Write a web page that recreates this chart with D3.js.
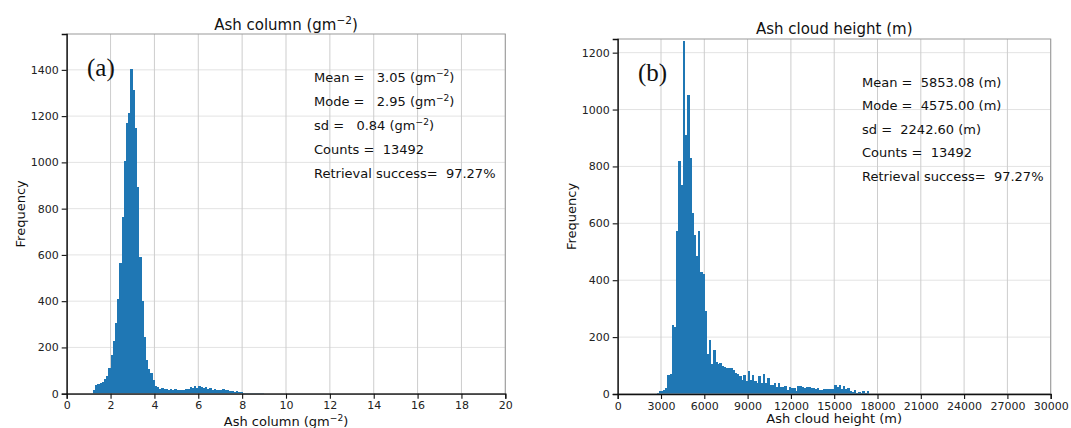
<!DOCTYPE html>
<html>
<head>
<meta charset="utf-8">
<script src="https://cdn.jsdelivr.net/npm/d3@7"></script>
<style>
  body { margin: 0; background: #fff; }
  svg { display: block; font-family: "DejaVu Sans", sans-serif; }
  .tick text { font-size: 11px; fill: #222; }
  .stats text { white-space: pre; }
</style>
</head>
<body>
<div id="chart"></div>
<script>
// ---- data ----
// (a) ash column, bins of 0.1 g/m2 starting at 1.2
const ashColumnStart = 1.2;
const ashColumnWidth = 0.1;
const ashColumnFreq = [
  15, 38, 44, 46, 50, 62, 75, 110,
  167, 229, 304, 408, 565, 762, 1004, 1171, 1212, 1403,
  1313, 1147, 895, 592, 400, 246, 145, 105, 88, 59,
  35, 30, 22, 25, 20, 22, 18, 20, 17, 19,
  15, 17, 14, 18, 22, 20, 30, 25, 32, 26,
  32, 28, 24, 28, 22, 24, 18, 20, 16, 18,
  16, 19, 14, 16, 12, 13, 9, 10, 7, 6,
  4, 3, 3, 2, 2, 2, 1, 1, 1, 1
];
const ashColumnXTicks = [0, 2, 4, 6, 8, 10, 12, 14, 16, 18, 20];
const ashColumnYTicks = [0, 200, 400, 600, 800, 1000, 1200, 1400];
const ashColumnStats = [
  ["Mean =   3.05 (gm", "\u22122", ")"],
  ["Mode =   2.95 (gm", "\u22122", ")"],
  ["sd =   0.84 (gm", "\u22122", ")"],
  ["Counts =  13492"],
  ["Retrieval success=  97.27%"]
];

// (b) ash cloud height, bins of 150 m starting at 2700 m
const heightStart = 2700;
const heightWidth = 150;
const heightFreq = [
  4, 10, 10, 14, 20, 66, 70, 242, 236, 572,
  818, 735, 1240, 910, 1050, 828, 635, 558, 485, 572,
  430, 423, 292, 142, 189, 107, 156, 113, 107, 110,
  100, 96, 92, 92, 90, 85, 74, 70, 62, 50,
  67, 45, 80, 48, 67, 45, 40, 63, 38, 70,
  38, 56, 32, 32, 40, 24, 38, 24, 24, 28,
  15, 24, 20, 22, 10, 29, 28, 26, 22, 24,
  24, 22, 20, 17, 20, 14, 14, 18, 16, 17,
  16, 18, 31, 24, 33, 17, 28, 16, 20, 10,
  8, 13, 4, 7, 2, 10, 2, 10
];
const heightXTicks = [0, 3000, 6000, 9000, 12000, 15000, 18000, 21000, 24000, 27000, 30000];
const heightYTicks = [0, 200, 400, 600, 800, 1000, 1200];
const heightStats = [
  ["Mean =  5853.08 (m)"],
  ["Mode =  4575.00 (m)"],
  ["sd =  2242.60 (m)"],
  ["Counts =  13492"],
  ["Retrieval success=  97.27%"]
];

const width = 1071;
const height = 428;
const barColor = "#1f77b4";

const svg = d3.select("#chart")
  .append("svg")
  .attr("width", width)
  .attr("height", height);

// text with optional superscript part in the middle
function addParts(t, parts) {
  t.append("tspan").text(parts[0]);
  if (parts.length > 1) {
    t.append("tspan").attr("font-size", "0.7em").attr("dy", "-0.55em").text(parts[1]);
    t.append("tspan").attr("dy", "0.385em").text(parts[2]);
  }
}

// one histogram panel
const drawPanel = (p) => {
  const x = d3.scaleLinear().domain(p.xDomain).range([p.left, p.right]);
  const y = d3.scaleLinear().domain(p.yDomain).range([p.bottom, p.top]);
  const g = svg.append("g");

  // grid
  g.append("g").selectAll("line")
    .data(p.yTicks)
    .enter()
    .append("line")
    .attr("x1", p.left).attr("x2", p.right)
    .attr("y1", d => y(d)).attr("y2", d => y(d))
    .attr("stroke", "#e3e3e3").attr("stroke-width", 1);
  g.append("g").selectAll("line")
    .data(p.xTicks)
    .enter()
    .append("line")
    .attr("x1", d => x(d)).attr("x2", d => x(d))
    .attr("y1", p.top).attr("y2", p.bottom)
    .attr("stroke", "#cdcdcd").attr("stroke-width", 1);

  // bars - crisp edges so neighbouring bins don't show seams
  const bins = p.freq.map((f, i) => ({ x0: p.start + i * p.binWidth, f: f }));
  g.append("g")
    .attr("shape-rendering", "crispEdges")
    .selectAll("rect")
    .data(bins.filter(d => d.f > 0))
    .enter()
    .append("rect")
    .attr("x", d => x(d.x0))
    .attr("width", d => x(d.x0 + p.binWidth) - x(d.x0) + 0.4)
    .attr("y", d => y(d.f))
    .attr("height", d => y(0) - y(d.f))
    .attr("fill", barColor);

  // frame
  g.append("rect")
    .attr("x", p.left).attr("y", p.top)
    .attr("width", p.right - p.left).attr("height", p.bottom - p.top)
    .attr("fill", "none").attr("stroke", "#9a9a9a").attr("stroke-width", 1);

  // axes
  const xAxis = d3.axisBottom(x).tickValues(p.xTicks).tickFormat(d3.format("d")).tickSize(5).tickPadding(3);
  const yAxis = d3.axisLeft(y).tickValues(p.yTicks).tickFormat(d3.format("d")).tickSize(5).tickPadding(3);
  g.append("g")
    .attr("transform", `translate(0,${p.bottom})`)
    .call(xAxis)
    .call(a => a.selectAll(".domain").attr("stroke", "#111").attr("stroke-width", 1.3))
    .call(a => a.selectAll("line").attr("stroke", "#111").attr("stroke-width", 1.1));
  g.append("g")
    .attr("transform", `translate(${p.left},0)`)
    .call(yAxis)
    .call(a => a.selectAll(".domain").attr("stroke", "#111").attr("stroke-width", 1.3))
    .call(a => a.selectAll("line").attr("stroke", "#111").attr("stroke-width", 1.1));
  g.selectAll(".tick text").attr("font-family", "DejaVu Sans, sans-serif");

  // title
  const title = g.append("text")
    .attr("x", (p.left + p.right) / 2)
    .attr("y", p.titleY)
    .attr("text-anchor", "middle")
    .attr("font-size", 15)
    .attr("fill", "#111");
  addParts(title, p.title);

  // axis labels
  const xl = g.append("text")
    .attr("x", (p.left + p.right) / 2)
    .attr("y", p.xLabelY)
    .attr("text-anchor", "middle")
    .attr("font-size", 13)
    .attr("fill", "#111");
  addParts(xl, p.xLabel);

  g.append("text")
    .attr("transform", `translate(${p.yLabelX},${(p.top + p.bottom) / 2}) rotate(-90)`)
    .attr("text-anchor", "middle")
    .attr("dy", "0.35em")
    .attr("font-size", 13)
    .attr("fill", "#111")
    .text("Frequency");

  // panel letter
  g.append("text")
    .attr("x", p.letterX)
    .attr("y", p.letterY)
    .attr("font-family", "Liberation Serif, Times New Roman, serif")
    .attr("font-size", 25)
    .attr("fill", "#111")
    .text(p.letter);

  // stats block
  const st = g.append("g").attr("class", "stats");
  p.stats.forEach((line, i) => {
    const t = st.append("text")
      .attr("x", p.statsX)
      .attr("y", p.statsY + i * p.statsStep)
      .attr("font-size", 13)
      .attr("fill", "#111")
      .attr("xml:space", "preserve");
    addParts(t, line);
  });
};

drawPanel({
  left: 66.7, right: 505.3, top: 34, bottom: 393.7,
  xDomain: [0, 20], yDomain: [0, 1555],
  xTicks: ashColumnXTicks, yTicks: ashColumnYTicks,
  start: ashColumnStart, binWidth: ashColumnWidth, freq: ashColumnFreq,
  title: ["Ash column (gm", "\u22122", ")"], titleY: 29.5,
  xLabel: ["Ash column (gm", "\u22122", ")"], xLabelY: 426,
  yLabelX: 20,
  letter: "(a)", letterX: 87, letterY: 76,
  stats: ashColumnStats, statsX: 314, statsY: 81.5, statsStep: 24.1
});

drawPanel({
  left: 617.7, right: 1050.7, top: 39, bottom: 394,
  xDomain: [0, 30000], yDomain: [0, 1248],
  xTicks: heightXTicks, yTicks: heightYTicks,
  start: heightStart, binWidth: heightWidth, freq: heightFreq,
  title: ["Ash cloud height (m)"], titleY: 34.3,
  xLabel: ["Ash cloud height (m)"], xLabelY: 423,
  yLabelX: 571.5,
  letter: "(b)", letterX: 638, letterY: 81,
  stats: heightStats, statsX: 862, statsY: 86.5, statsStep: 23.5
});
</script>
</body>
</html>
